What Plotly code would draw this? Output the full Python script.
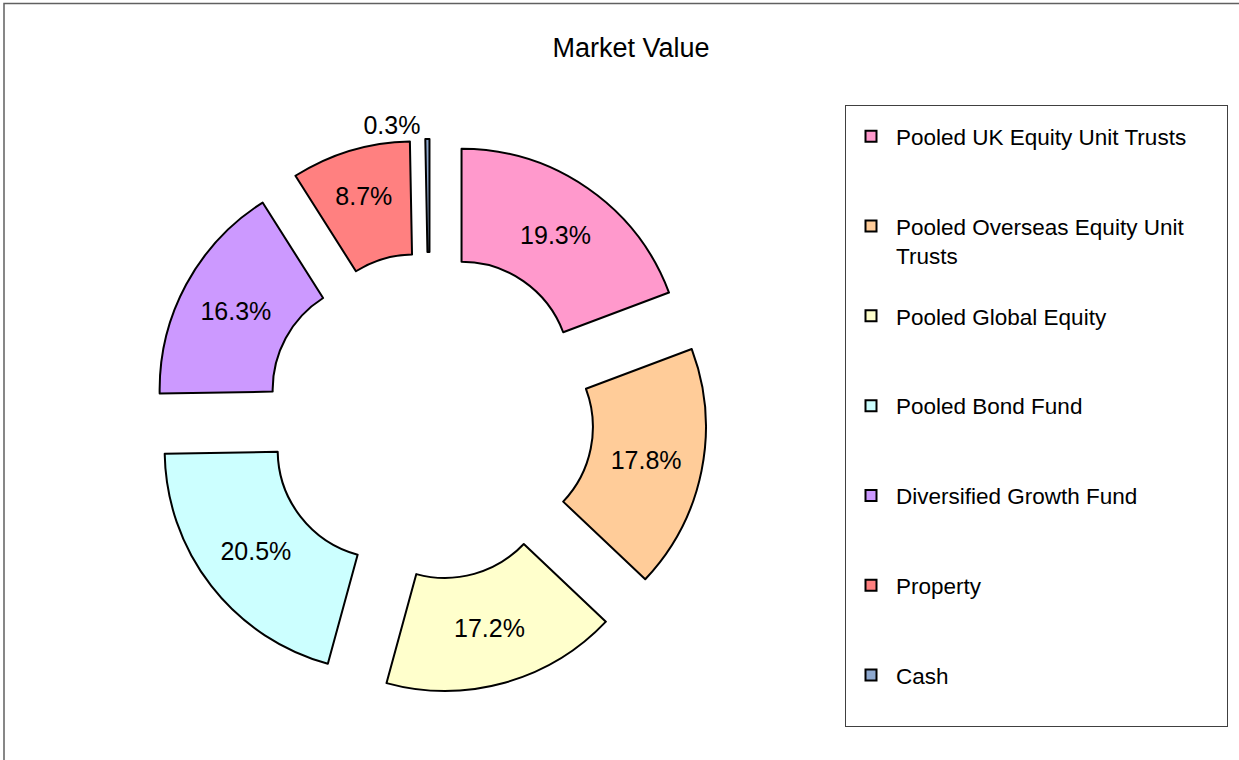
import plotly.graph_objects as go

categories = ["Pooled UK Equity Unit Trusts", "Pooled Overseas Equity Unit Trusts",
              "Pooled Global Equity", "Pooled Bond Fund", "Diversified Growth Fund",
              "Property", "Cash"]
legend_lines = [["Pooled UK Equity Unit Trusts"], ["Pooled Overseas Equity Unit", "Trusts"],
                ["Pooled Global Equity"], ["Pooled Bond Fund"], ["Diversified Growth Fund"],
                ["Property"], ["Cash"]]
values = [19.3, 17.8, 17.2, 20.5, 16.3, 8.7, 0.3]
colors = ["#FF99CC", "#FFCC99", "#FFFFCC", "#CCFFFF", "#CC99FF", "#FF8080", "#8EA9D0"]
text_positions = ["inside"] * 6 + ["outside"]

FONT = "Liberation Sans, Arial, sans-serif"
W, H = 1239, 760

fig = go.Figure()
fig.add_trace(go.Pie(
    labels=categories, values=values, sort=False, direction="clockwise", rotation=0,
    hole=0.49, pull=[0.25] * len(values),
    marker=dict(colors=colors, line=dict(color="black", width=2)),
    texttemplate="%{percent:.1%}", textposition=text_positions,
    insidetextorientation="horizontal",
    textfont=dict(family=FONT, size=25, color="black"),
    domain=dict(x=[153 / W, 707 / W], y=[1 - 693 / H, 1 - 139 / H]),
    showlegend=False,
))

PAD = "\u00a0" * 52
for i, (lines, col) in enumerate(zip(legend_lines, colors)):
    if len(lines) == 1:
        lines = lines + [PAD if i == 0 else "\u00a0"]
    fig.add_trace(go.Scatter(
        x=[None], y=[None], mode="markers", name="<br>".join(lines), legendgroup=f"g{i}",
        marker=dict(symbol="square", size=11, color=col, line=dict(color="black", width=2)),
    ))

fig.update_layout(
    width=W, height=H,
    margin=dict(l=0, r=0, t=0, b=0, autoexpand=False),
    paper_bgcolor="white", plot_bgcolor="white",
    title=dict(text="Market Value", x=631 / W, xanchor="center", y=1 - 48 / H, yanchor="middle",
               font=dict(family=FONT, size=27, color="black")),
    xaxis=dict(visible=False), yaxis=dict(visible=False),
    legend=dict(x=845 / W, y=1 - 105 / H, xanchor="left", yanchor="top",
                bordercolor="#404040", borderwidth=1, bgcolor="white",
                font=dict(family=FONT, size=22.5, color="black"),
                title=dict(text="\u00a0", font=dict(size=7)),
                itemwidth=40,
                valign="top", tracegroupgap=28.3),
    shapes=[dict(type="rect", xref="paper", yref="paper",
                 x0=4 / W, x1=1.01, y0=-0.02, y1=1 - 3.5 / H,
                 line=dict(color="#606060", width=1.5))],
)

fig.write_html("out.html", config={"displayModeBar": False},
               post_script="document.body.style.margin='0';")
